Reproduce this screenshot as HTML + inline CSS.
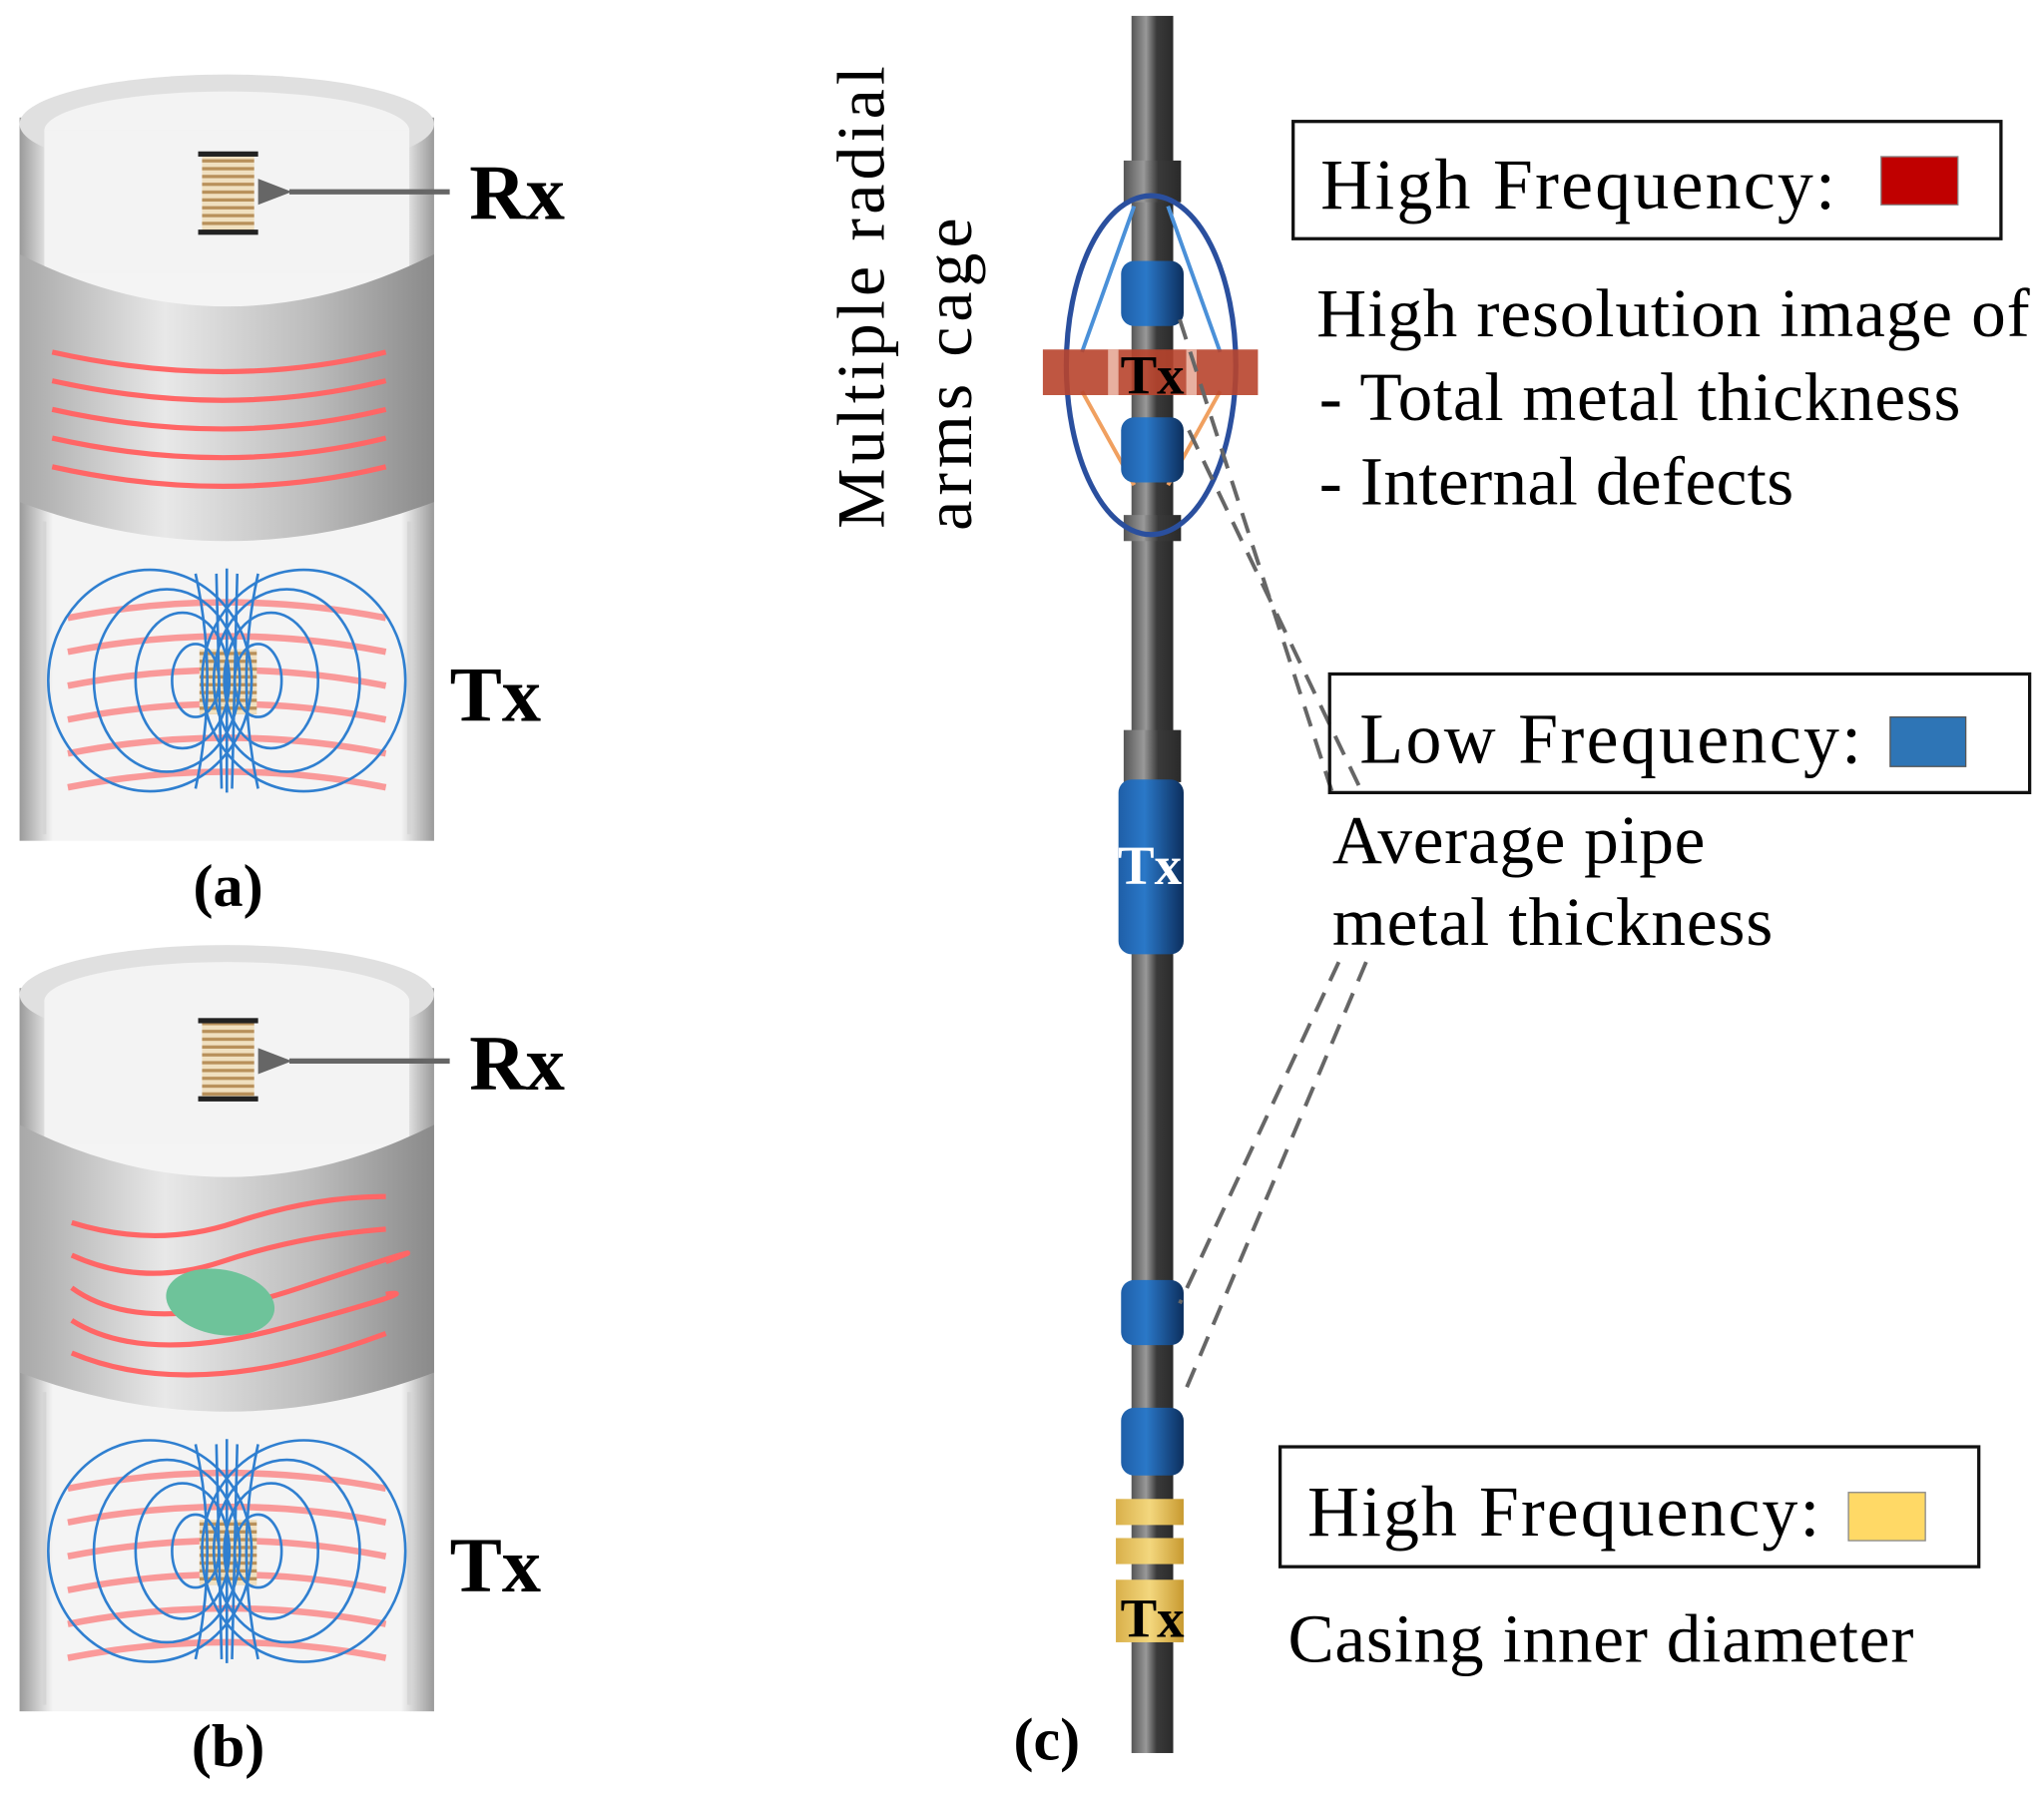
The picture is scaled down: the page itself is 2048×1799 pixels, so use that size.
<!DOCTYPE html>
<html><head><meta charset="utf-8"><style>html,body{margin:0;padding:0;background:#fff}svg{display:block}</style></head><body>
<svg width="2048" height="1799" viewBox="0 0 1568 1377" xmlns="http://www.w3.org/2000/svg" font-family="Liberation Serif, serif">
<defs>
<linearGradient id="metal" x1="0" x2="1" y1="0" y2="0">
<stop offset="0" stop-color="#a8a8a8"/><stop offset="0.35" stop-color="#e8e8e8"/><stop offset="0.7" stop-color="#bdbdbd"/><stop offset="1" stop-color="#8a8a8a"/></linearGradient>
<linearGradient id="tube" x1="0" x2="1"><stop offset="0" stop-color="#9a9a9a"/><stop offset="0.08" stop-color="#f4f4f4"/><stop offset="0.92" stop-color="#f4f4f4"/><stop offset="1" stop-color="#9a9a9a"/></linearGradient>
<linearGradient id="pipe" x1="0" x2="1"><stop offset="0" stop-color="#555"/><stop offset="0.35" stop-color="#999"/><stop offset="0.6" stop-color="#3a3a3a"/><stop offset="1" stop-color="#2a2a2a"/></linearGradient>
<linearGradient id="blue" x1="0" x2="1"><stop offset="0" stop-color="#1f5fa8"/><stop offset="0.4" stop-color="#2a78c8"/><stop offset="1" stop-color="#0c2f5e"/></linearGradient>
<linearGradient id="gold" x1="0" x2="1"><stop offset="0" stop-color="#d9b04a"/><stop offset="0.5" stop-color="#f3d77e"/><stop offset="1" stop-color="#c89a30"/></linearGradient>
<pattern id="coilp" width="44" height="6" patternUnits="userSpaceOnUse"><rect width="44" height="6" fill="#f0e0c0"/><rect y="2" width="44" height="2.5" fill="#b8905a"/></pattern>
<marker id="ah" markerUnits="userSpaceOnUse" markerWidth="26" markerHeight="20" refX="2" refY="10" orient="auto"><path d="M26,0 L0,10 L26,20 Z" fill="#666"/></marker>
<g id="cyl">
 <rect x="15" y="90" width="318" height="555" fill="url(#tube)"/>
 <ellipse cx="174" cy="95" rx="159" ry="38" fill="#e0e0e0"/>
 <ellipse cx="174" cy="100" rx="140" ry="30" fill="#f3f3f3"/>
 <rect x="34" y="100" width="280" height="110" fill="#f3f3f3"/>
 <path d="M15,195 Q174,275 333,195 L333,385 Q174,445 15,385 Z" fill="url(#metal)"/>
 <path d="M34,400 L34,640 M314,400 L314,640" stroke="#d5d5d5" stroke-width="3"/>
</g>
<g id="tx">
 <g fill="none" stroke="#fb8a8a" stroke-width="5" opacity="0.85">
  <path d="M52,474 Q174,450 296,474"/><path d="M52,500 Q174,476 296,500"/><path d="M52,526 Q174,502 296,526"/><path d="M52,552 Q174,528 296,552"/><path d="M52,578 Q174,554 296,578"/><path d="M52,604 Q174,580 296,604"/>
 </g>
 <rect x="153" y="498" width="44" height="50" fill="url(#coilp)"/>
 <g fill="none" stroke="#2f7fd0" stroke-width="2">
  <ellipse cx="150" cy="522" rx="18" ry="28"/><ellipse cx="198" cy="522" rx="18" ry="28"/>
  <ellipse cx="140" cy="522" rx="36" ry="52"/><ellipse cx="208" cy="522" rx="36" ry="52"/>
  <ellipse cx="128" cy="522" rx="56" ry="70"/><ellipse cx="220" cy="522" rx="56" ry="70"/>
  <ellipse cx="115" cy="522" rx="78" ry="85"/><ellipse cx="233" cy="522" rx="78" ry="85"/>
  <path d="M150,440 Q168,522 150,605 M198,440 Q180,522 198,605 M166,440 L170,605 M182,440 L178,605 M174,436 L174,608"/>
 </g>
</g>
</defs>
<!-- (a) -->
<use href="#cyl"/>
<g fill="none" stroke="#f66" stroke-width="4">
 <path d="M40,270 Q174,300 296,270"/><path d="M40,292 Q174,322 296,292"/><path d="M40,314 Q174,344 296,314"/><path d="M40,336 Q174,366 296,336"/><path d="M40,358 Q174,388 296,358"/>
</g>
<use href="#tx"/>
<rect x="155" y="118" width="40" height="60" fill="url(#coilp)"/><rect x="152" y="116" width="46" height="4" fill="#222"/><rect x="152" y="176" width="46" height="4" fill="#222"/>
<line x1="345" y1="147" x2="222" y2="147" stroke="#666" stroke-width="4" marker-end="url(#ah)"/>
<text x="360" y="168" font-size="60" font-weight="bold">Rx</text>
<text x="345" y="553" font-size="60" font-weight="bold">Tx</text>
<text x="175" y="695" font-size="46" font-weight="bold" text-anchor="middle">(a)</text>
<!-- (b) -->
<g transform="translate(0,668)">
<use href="#cyl"/>
<g fill="none" stroke="#f66" stroke-width="4">
 <path d="M55,270 Q120,290 180,270 T296,250"/><path d="M55,295 Q110,320 170,300 T296,275"/><path d="M55,320 Q110,360 230,320 T296,300"/><path d="M55,345 Q110,380 220,350 T296,325"/><path d="M55,370 Q150,410 296,355"/>
</g>
<ellipse cx="169" cy="331" rx="42" ry="25" fill="#6ec39a" transform="rotate(10 169 331)"/>
<use href="#tx"/>
<rect x="155" y="115" width="40" height="60" fill="url(#coilp)"/><rect x="152" y="113" width="46" height="4" fill="#222"/><rect x="152" y="173" width="46" height="4" fill="#222"/>
<line x1="345" y1="146" x2="222" y2="146" stroke="#666" stroke-width="4" marker-end="url(#ah)"/>
<text x="360" y="168" font-size="60" font-weight="bold">Rx</text>
<text x="345" y="553" font-size="60" font-weight="bold">Tx</text>
<text x="175" y="687" font-size="46" font-weight="bold" text-anchor="middle">(b)</text>
</g>
<!-- (c) pipe -->
<rect x="868" y="12" width="32" height="1333" fill="url(#pipe)"/>
<rect x="862" y="123" width="44" height="32" fill="url(#pipe)"/><rect x="862" y="395" width="44" height="20" fill="url(#pipe)"/>
<rect x="862" y="560" width="44" height="40" fill="url(#pipe)"/>
<ellipse cx="883" cy="280" rx="65" ry="130" fill="none" stroke="#2a4f9e" stroke-width="4"/>
<path d="M870,158 L830,270 M896,158 L936,270" stroke="#4a90d8" stroke-width="3"/>
<path d="M830,300 L870,372 M936,300 L896,372" stroke="#f0a060" stroke-width="3"/>
<rect x="860" y="200" width="48" height="50" rx="10" fill="url(#blue)"/>
<rect x="860" y="320" width="48" height="50" rx="10" fill="url(#blue)"/>
<rect x="800" y="268" width="165" height="35" fill="#b8442c" opacity="0.9"/>
<rect x="850" y="268" width="8" height="35" fill="#e8b0a0"/><rect x="910" y="268" width="8" height="35" fill="#e8b0a0"/>
<text x="884" y="302" font-size="42" font-weight="bold" text-anchor="middle">Tx</text>
<rect x="858" y="598" width="50" height="134" rx="10" fill="url(#blue)"/>
<text x="882" y="678" font-size="42" font-weight="bold" fill="#fff" text-anchor="middle">Tx</text>
<rect x="860" y="982" width="48" height="50" rx="10" fill="url(#blue)"/>
<rect x="860" y="1080" width="48" height="52" rx="10" fill="url(#blue)"/>
<rect x="856" y="1150" width="52" height="20" fill="url(#gold)"/>
<rect x="856" y="1180" width="52" height="20" fill="url(#gold)"/>
<rect x="856" y="1212" width="52" height="48" fill="url(#gold)"/>
<text x="884" y="1256" font-size="42" font-weight="bold" text-anchor="middle">Tx</text>
<!-- dashed -->
<g stroke="#666" stroke-width="3" stroke-dasharray="16,10" fill="none">
 <path d="M905,245 L1022,608"/><path d="M912,330 L1045,608"/>
 <path d="M1048,738 L908,1070"/><path d="M1027,738 L905,1000"/>
</g>
<!-- rotated text -->
<text transform="translate(678,228) rotate(-90)" font-size="52" text-anchor="middle" textLength="355">Multiple radial</text>
<text transform="translate(745,287) rotate(-90)" font-size="52" text-anchor="middle" textLength="240">arms cage</text>
<!-- boxes -->
<rect x="992" y="93" width="543" height="90" fill="#fff" stroke="#111" stroke-width="2.5"/>
<text x="1013" y="160" font-size="55" textLength="395">High Frequency:</text>
<rect x="1443" y="120" width="59" height="37" fill="#c00000" stroke="#888"/>
<text font-size="53"><tspan x="1010" y="258" textLength="547">High resolution image of</tspan><tspan x="1012" y="322" textLength="492">- Total metal thickness</tspan><tspan x="1012" y="387" textLength="364">- Internal defects</tspan></text>
<rect x="1020" y="517" width="537" height="91" fill="none" stroke="#111" stroke-width="2.5"/>
<text x="1043" y="585" font-size="55" textLength="385">Low Frequency:</text>
<rect x="1450" y="550" width="58" height="38" fill="#2e75b6" stroke="#555"/>
<text font-size="53"><tspan x="1022" y="662" textLength="286">Average pipe</tspan><tspan x="1022" y="725" textLength="338">metal thickness</tspan></text>
<rect x="982" y="1110" width="536" height="92" fill="#fff" stroke="#111" stroke-width="2.5"/>
<text x="1003" y="1178" font-size="55" textLength="393">High Frequency:</text>
<rect x="1418" y="1145" width="59" height="37" fill="#ffd966" stroke="#888"/>
<text x="988" y="1275" font-size="53" textLength="480">Casing inner diameter</text>
<text x="803" y="1350" font-size="46" font-weight="bold" text-anchor="middle">(c)</text>
</svg>
</body></html>
